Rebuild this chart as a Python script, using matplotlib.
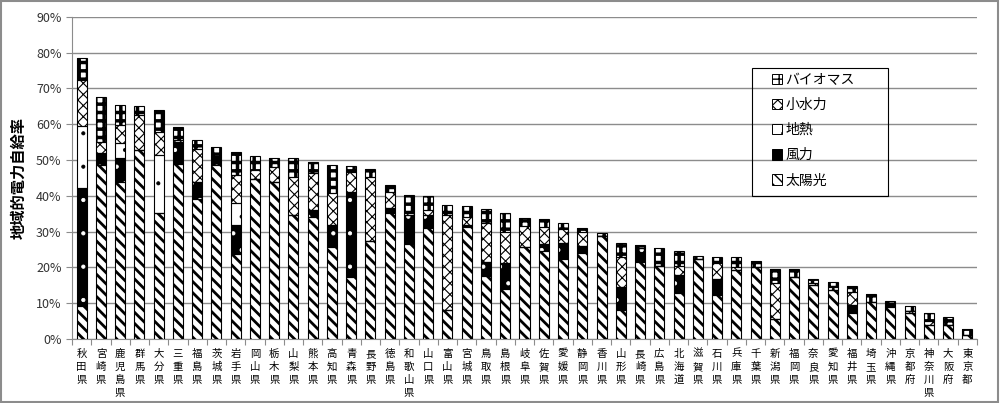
import matplotlib
matplotlib.use('Agg')
import matplotlib.pyplot as plt
import numpy as np
from matplotlib.patches import Patch, Rectangle

plt.rcParams['font.family'] = ['Noto Sans CJK JP', 'DejaVu Sans']

prefs = ['秋田県', '宮崎県', '鹿児島県', '群馬県', '大分県', '三重県', '福島県', '茨城県',
         '岩手県', '岡山県', '栃木県', '山梨県', '熊本県', '高知県', '青森県', '長野県',
         '徳島県', '和歌山県', '山口県', '富山県', '宮城県', '鳥取県', '島根県', '岐阜県',
         '佐賀県', '愛媛県', '静岡県', '香川県', '山形県', '長崎県', '広島県', '北海道',
         '滋賀県', '石川県', '兵庫県', '千葉県', '新潟県', '福岡県', '奈良県', '愛知県',
         '福井県', '埼玉県', '沖縄県', '京都府', '神奈川県', '大阪府', '東京都']

# percent values
solar = [9.1, 48.6, 43.8, 52.8, 35.2, 49.0, 39.0, 48.6,
         23.8, 44.6, 43.9, 34.6, 34.2, 25.8, 17.4, 27.5,
         35.3, 26.4, 30.9, 8.1, 31.2, 17.6, 13.9, 25.6,
         24.7, 22.3, 23.9, 28.8, 8.0, 21.5, 20.4, 12.8,
         22.2, 12.3, 19.3, 20.2, 5.5, 17.4, 15.1, 13.7,
         7.2, 10.4, 9.0, 7.3, 3.9, 3.9, 1.1]
wind = [33.1, 3.3, 6.9, 0, 0, 6.0, 4.9, 2.3,
        8.0, 0, 0, 0, 1.8, 6.0, 23.8, 0,
        1.2, 8.2, 3.7, 0, 0.6, 4.0, 7.2, 0,
        1.8, 4.6, 2.2, 0, 6.5, 3.9, 0, 5.0,
        0, 4.4, 0, 0, 0, 0, 0, 0,
        2.3, 0, 0.5, 0, 0, 0, 0]
geo = [17.2, 0, 4.0, 0, 16.2, 0, 0, 0,
       6.1, 0, 0, 0, 0, 0, 0, 0,
       0, 0, 0, 0, 0, 0, 0, 0,
       0, 0, 0, 0, 0, 0, 0, 0,
       0, 0, 0, 0, 0, 0, 0, 0,
       0, 0, 0, 0, 0, 0, 0]
hydro = [13.0, 3.2, 5.1, 9.8, 6.5, 0.5, 9.1, 0.3,
         7.9, 2.6, 4.2, 10.7, 10.3, 8.9, 5.5, 17.8,
         4.7, 0.5, 1.4, 26.5, 2.4, 10.7, 8.9, 6.0,
         4.7, 3.7, 3.7, 0, 8.4, 0, 0, 2.6,
         0, 4.6, 0.9, 0, 10.0, 0, 0.5, 0.9,
         3.7, 0, 0, 0.5, 1.0, 0, 0]
bio = [6.1, 12.4, 5.6, 2.5, 6.1, 3.6, 2.6, 2.4,
       6.5, 3.9, 2.6, 5.2, 3.2, 7.9, 1.6, 2.1,
       1.8, 5.1, 3.9, 2.8, 3.0, 3.9, 5.3, 2.1,
       2.2, 1.9, 1.2, 0.9, 3.9, 0.8, 5.0, 4.1,
       1.1, 1.6, 2.6, 1.6, 4.1, 2.1, 1.1, 1.2,
       1.7, 2.2, 1.2, 1.4, 2.3, 2.2, 1.6]

series = [solar, wind, geo, hydro, bio]
names = ['太陽光', '風力', '地熱', '小水力', 'バイオマス']
# face, hatch colour, hatch pattern, hatch linewidth
styles = [('white', 'black', '\\\\\\', 2.0),
          ('black', 'white', '.', 0.6),
          ('white', 'black', '.', 0.5),
          ('white', 'black', 'xxx', 0.8),
          ('white', 'black', '++', 2.5)]

fig = plt.figure(figsize=(10, 4.03), dpi=100)
ax = fig.add_axes([0.072, 0.159, 0.905, 0.799])

x = np.arange(len(prefs))
bottom = np.zeros(len(prefs))
handles = []
for vals, name, (fc, hc, hatch, hlw) in zip(series, names, styles):
    vals = np.array(vals)
    # hatch linewidth is taken from rcParams when the patch is made
    with plt.rc_context({'hatch.linewidth': hlw}):
        ax.bar(x, vals, 0.52, bottom=bottom, color=fc, edgecolor=hc,
               hatch=hatch, linewidth=0, zorder=3)
    ax.bar(x, vals, 0.52, bottom=bottom, fill=False, edgecolor='black',
           linewidth=0.8, zorder=4)
    handles.append(Patch(facecolor=fc, edgecolor='black', hatch=hatch, linewidth=0.7))
    bottom += vals

ax.set_xlim(-0.5, len(prefs) - 0.5)
ax.set_ylim(0, 90)
ax.set_yticks(np.arange(0, 91, 10))
ax.set_yticklabels([f'{v}%' for v in range(0, 91, 10)], fontsize=9, color='#333333')
ax.yaxis.grid(True, color='#8c8c8c', linewidth=1)
ax.set_axisbelow(True)

ax.set_xticks(np.arange(-0.5, len(prefs), 1))
ax.set_xticklabels([])
ax.set_xticks(x, minor=True)
ax.set_xticklabels(['\n'.join(p) for p in prefs], minor=True, fontsize=7.5,
                   linespacing=1.4, va='top')
ax.tick_params(axis='x', which='minor', length=0, pad=7)
ax.tick_params(axis='x', which='major', length=4, color='#8c8c8c')
ax.tick_params(axis='y', length=4, color='#8c8c8c')

for s in ['top', 'right']:
    ax.spines[s].set_visible(False)
ax.spines['left'].set_color('#8c8c8c')
ax.spines['bottom'].set_color('#8c8c8c')

ax.set_ylabel('地域的電力自給率', fontsize=11, fontweight='bold', labelpad=7)

leg = ax.legend(handles[::-1], names[::-1], loc='upper left',
                bbox_to_anchor=(0.773, 0.826), fontsize=10, frameon=False,
                handlelength=0.75, handleheight=0.75, handletextpad=0.25,
                labelspacing=0.8, borderpad=0, borderaxespad=0)
for p, (fc, hc, hatch, hlw) in zip(leg.get_patches(), styles[::-1]):
    p.set_hatch_linewidth(min(hlw, 1.0))
    p.set_edgecolor('black')
    p.set_facecolor(fc)
ax.add_patch(Rectangle((0.751, 0.444), 0.151, 0.398, transform=ax.transAxes,
                       fill=False, edgecolor='black', linewidth=0.8, zorder=5))

fig.patches.append(Rectangle((0.001, 0.002), 0.997, 0.995, transform=fig.transFigure,
                             fill=False, edgecolor='#8c8c8c', linewidth=1.5))

fig.savefig('out.png', dpi=100)
